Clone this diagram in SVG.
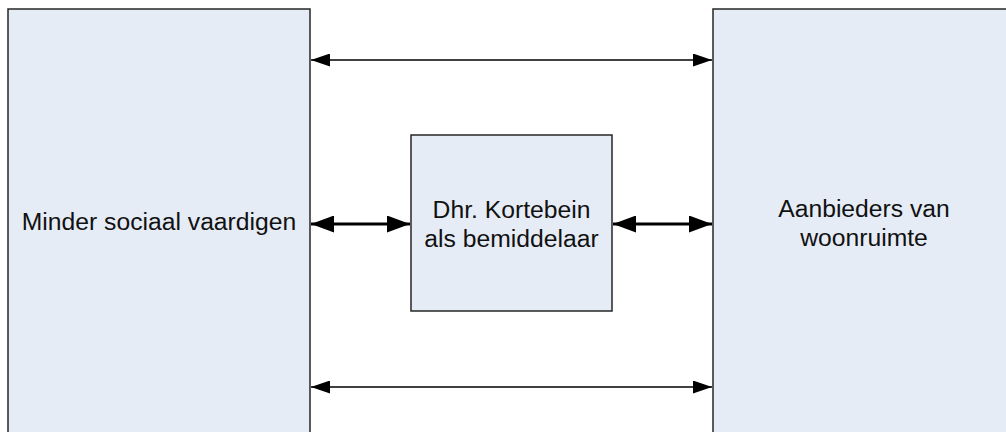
<svg xmlns="http://www.w3.org/2000/svg" width="1006" height="432" viewBox="0 0 1006 432">
<style>
.box{fill:#E6ECF6;stroke:#262626;stroke-width:1.5}
.lbl{font-family:"Liberation Sans",Arial,sans-serif;font-size:24.7px;fill:#111;text-anchor:middle}
.thin{stroke:#000;stroke-width:1.6;fill:none}
.thick{stroke:#000;stroke-width:3.2;fill:none}
</style>
<defs>
<marker id="ah" viewBox="0 0 19 13" refX="19" refY="6.5" markerWidth="19" markerHeight="13" markerUnits="userSpaceOnUse" orient="auto-start-reverse">
<path d="M0,0 L19,6.5 L0,13 Z" fill="#000"/>
</marker>
<marker id="ahb" viewBox="0 0 23 17" refX="23" refY="8.5" markerWidth="23" markerHeight="17" markerUnits="userSpaceOnUse" orient="auto-start-reverse">
<path d="M0,0 L23,8.5 L0,17 Z" fill="#000"/>
</marker>
</defs>
<g id="left">
<rect class="box" x="8" y="9" width="302" height="440"/>
<text class="lbl" x="159" y="230">Minder sociaal vaardigen</text>
</g>
<g id="right">
<rect class="box" x="713" y="9" width="302" height="440"/>
<text class="lbl" x="864" y="216.5">Aanbieders van</text>
<text class="lbl" x="864" y="245.5">woonruimte</text>
</g>
<g id="middle">
<rect class="box" x="411" y="135" width="201" height="176"/>
<text class="lbl" x="511.5" y="217.5">Dhr. Kortebein</text>
<text class="lbl" x="511.5" y="246.5">als bemiddelaar</text>
</g>
<g id="connectors">
<line class="thin" x1="311" y1="60" x2="712" y2="60" marker-start="url(#ah)" marker-end="url(#ah)"/>
<line class="thin" x1="311" y1="387" x2="712" y2="387" marker-start="url(#ah)" marker-end="url(#ah)"/>
<line class="thick" x1="311" y1="224" x2="410" y2="224" marker-start="url(#ahb)" marker-end="url(#ahb)"/>
<line class="thick" x1="613" y1="224" x2="712" y2="224" marker-start="url(#ahb)" marker-end="url(#ahb)"/>
</g>
</svg>
